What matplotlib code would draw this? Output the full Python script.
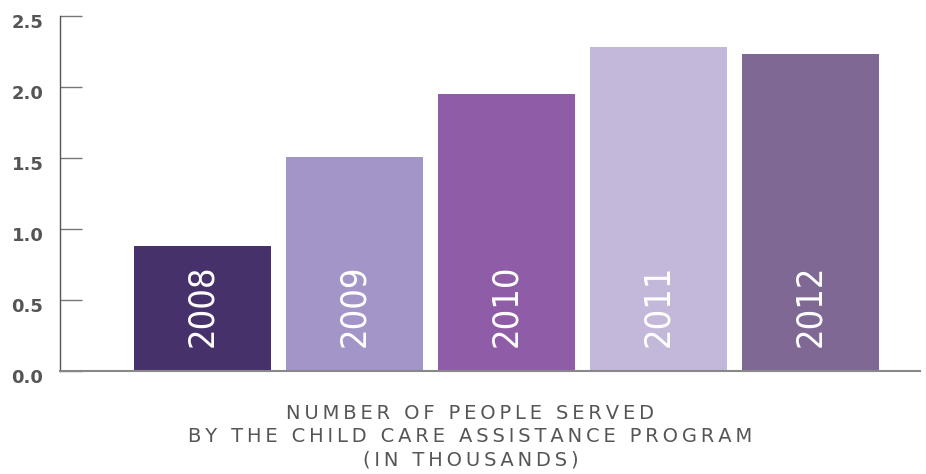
import matplotlib
matplotlib.use('Agg')
import matplotlib.pyplot as plt
import matplotlib.transforms as mtransforms
import numpy as np

years = ['2008', '2009', '2010', '2011', '2012']
served = [0.88, 1.51, 1.95, 2.28, 2.23]
colors = ['#46316a', '#a395c8', '#8f5da8', '#c3b8da', '#7f6894']
yticks = [0.0, 0.5, 1.0, 1.5, 2.0, 2.5]
caption_lines = ['NUMBER OF PEOPLE SERVED',
                 'BY THE CHILD CARE ASSISTANCE PROGRAM',
                 '(IN THOUSANDS)']

fig = plt.figure(figsize=(9.26, 4.74), dpi=100)
ax = fig.add_axes([0.0648, 0.2173, 0.9287, 0.7489])

x = np.arange(len(years))
ax.bar(x, served, width=0.9, color=colors, zorder=2)

for xi, yr in zip(x, years):
    ax.text(xi, 0.17, yr, rotation=90, ha='center', va='bottom',
            color='white', fontsize=26, fontweight='light',
            fontstretch='condensed', family='DejaVu Sans', zorder=3)

ax.set_xlim(-0.9375, 4.72)
ax.set_ylim(0, 2.5)
ax.set_xticks([])
ax.set_yticks(yticks)
ax.set_yticklabels([f'{v:.1f}' for v in yticks])
ax.tick_params(axis='y', direction='in', length=16, width=1, color='#777777',
               pad=12, labelsize=13, labelcolor='#555555')
for lab in ax.get_yticklabels():
    lab.set_fontweight('bold')
    lab.set_transform(lab.get_transform() +
                      mtransforms.ScaledTranslation(0, -5 / 100, fig.dpi_scale_trans))

for s in ['top', 'right']:
    ax.spines[s].set_visible(False)
ax.spines['left'].set_color('#555555')
ax.spines['left'].set_linewidth(1)
ax.spines['bottom'].set_color('#888888')
ax.spines['bottom'].set_linewidth(1.5)

# spread the letters a bit, like the tracked caption of the original
caption = '\n'.join('\u2009'.join(line) for line in caption_lines)
fig.text(0.508, 0.148, caption, ha='center', va='top', fontsize=14,
         color='#555555', linespacing=1.3)

fig.savefig('out.png', dpi=100)
